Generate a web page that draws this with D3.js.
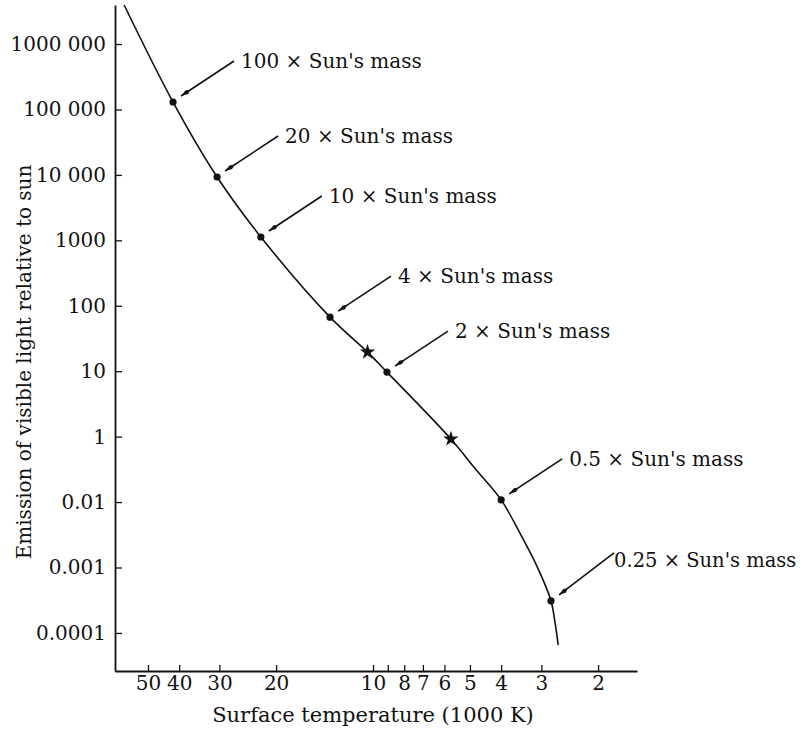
<!DOCTYPE html>
<meta charset="utf-8">
<style>
  body {margin: 0; background: #fff;}
  svg text {font-family: 'DejaVu Serif', 'Liberation Serif', serif; fill: #111;}
</style>
<svg width="803" height="732"></svg>
<script src="https://cdn.jsdelivr.net/npm/d3@7"></script>
<script>

// main sequence (temperature in 1000 K, light relative to sun)
var curveTemp = [59.3, 41.8, 30.5, 22.3, 13.6, 10.4, 9.05, 5.73, 4.82, 4.00, 3.50, 3.09, 2.80, 2.72, 2.66];
var curveLum  = [3.95e6, 1.30e5, 9290, 1125, 67, 19.6, 9.7, 0.92, 0.325, 0.108, 0.0337, 0.0102, 0.00308, 0.00142, 0.00065];

var massTemp   = [41.8, 30.5, 22.3, 13.6, 9.05, 4.00, 2.80];
var massLum    = [1.30e5, 9290, 1125, 67, 9.7, 0.108, 0.00308];
var massLabels = ["100", "20", "10", "4", "2", "0.5", "0.25"];

// the two star symbols
var starTemp = [10.4, 5.73];
var starLum  = [19.6, 0.92];

var xTicks      = [50, 40, 30, 20, 10, 9, 8, 7, 6, 5, 4, 3, 2];
var xTickLabels = ["50", "40", "30", "20", "10", "", "8", "7", "6", "5", "4", "3", "2"];
var yTicks      = [1e6, 1e5, 1e4, 1e3, 100, 10, 1, 0.1, 0.01, 0.001];
var yTickLabels = ["1000 000", "100 000", "10 000", "1000", "100", "10", "1", "0.01", "0.001", "0.0001"];

var svg = d3.select("svg");

var x = d3.scaleLog().domain([63.3, 1.514]).range([115, 637]);
var y = d3.scaleLog().domain([2.62e-4, 3.95e6]).range([671, 5]);

// axes
var gx = svg.append("g")
    .attr("transform", "translate(0,671)")
    .call(d3.axisBottom(x)
        .tickValues(xTicks)
        .tickFormat(function(d, i) { return xTickLabels[i]; })
        .tickSizeInner(-6).tickSizeOuter(0).tickPadding(5));

var gy = svg.append("g")
    .attr("transform", "translate(115,0)")
    .call(d3.axisLeft(y)
        .tickValues(yTicks)
        .tickFormat(function(d, i) { return yTickLabels[i]; })
        .tickSizeInner(-7).tickSizeOuter(0).tickPadding(9));

svg.selectAll(".domain").style("stroke", "#111").style("stroke-width", 1.8);
svg.selectAll(".tick line").style("stroke", "#111").style("stroke-width", 1.3);
svg.selectAll(".tick text")
    .style("font-family", "'DejaVu Serif', serif")
    .style("font-size", "20px")
    .style("fill", "#111");

// axis titles
svg.append("text")
    .attr("x", 373).attr("y", 722)
    .attr("text-anchor", "middle")
    .style("font-size", "21px")
    .text("Surface temperature (1000 K)");

svg.append("text")
    .attr("transform", "translate(31,362) rotate(-90)")
    .attr("text-anchor", "middle")
    .style("font-size", "20px")
    .text("Emission of visible light relative to sun");

// curve
var pts = curveTemp.map(function(t, i) { return {t: t, l: curveLum[i]}; });
var line = d3.line()
    .x(function(d) { return x(d.t); })
    .y(function(d) { return y(d.l); })
    .curve(d3.curveCatmullRom);

svg.append("path")
    .datum(pts)
    .attr("d", line)
    .style("fill", "none")
    .style("stroke", "#111")
    .style("stroke-width", 1.6);

// mass dots
svg.append("g").selectAll("circle")
    .data(massTemp)
    .enter().append("circle")
    .attr("cx", function(d) { return x(d); })
    .attr("cy", function(d, i) { return y(massLum[i]); })
    .attr("r", 3.6)
    .style("fill", "#111");

// stars
svg.append("g").selectAll("path")
    .data(starTemp)
    .enter().append("path")
    .attr("d", d3.symbol(d3.symbolStar, 75))
    .attr("transform", function(d, i) { return "translate(" + x(d) + "," + y(starLum[i]) + ")"; })
    .style("fill", "#111");

// arrows + labels
svg.append("defs").append("marker")
    .attr("id", "head")
    .attr("markerUnits", "userSpaceOnUse")
    .attr("viewBox", "0 -3 12 6")
    .attr("refX", 11).attr("refY", 0)
    .attr("markerWidth", 12).attr("markerHeight", 6)
    .attr("orient", "auto")
  .append("path")
    .attr("d", "M0,0L4,-2.2L11,0L4,2.2Z")
    .style("fill", "#111");

var last = massLabels.length - 1;

var ann = svg.append("g").selectAll("g")
    .data(massLabels)
    .enter().append("g")
    .attr("transform", function(d, i) {
      return "translate(" + x(massTemp[i]) + "," + y(massLum[i]) + ")";
    });

ann.append("line")
    .attr("x1", function(d, i) { return i == last ? 63 : 61; })
    .attr("y1", function(d, i) { return i == last ? -48 : -41; })
    .attr("x2", 8).attr("y2", -6)
    .attr("marker-end", "url(#head)")
    .style("stroke", "#111")
    .style("stroke-width", 1.6);

ann.append("text")
    .attr("x", function(d, i) { return i == last ? 63 : 68; })
    .attr("y", -34)
    .style("font-size", function(d, i) { return i == last ? "19.5px" : "20px"; })
    .text(function(d) { return d + " \u00d7 Sun's mass"; });

</script>
